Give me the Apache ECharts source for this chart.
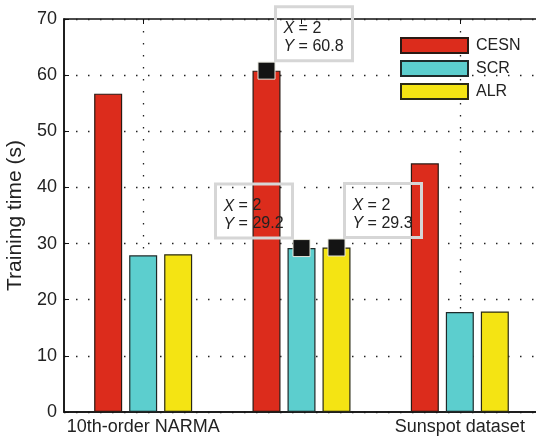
<!DOCTYPE html>
<html>
<head>
<meta charset="utf-8">
<script src="https://cdn.jsdelivr.net/npm/echarts@6/dist/echarts.min.js"></script>
<style>
html,body{margin:0;padding:0;background:#fff;}
#chart{width:536px;height:437px;}
</style>
</head>
<body>
<div id="chart"></div>
<script>
const categories = ['10th-order NARMA', 'Henon map', 'Sunspot dataset'];
const seriesNames = ['CESN', 'SCR', 'ALR'];
const cesn = [56.7, 60.8, 44.3];
const scr = [27.9, 29.2, 17.8];
const alr = [28.1, 29.3, 17.9];
const yTicks = [0, 10, 20, 30, 40, 50, 60, 70];
const yLabel = 'Training time (s)';
// data tips are shown on this category (index)
const tipCategory = 1;

const FONT = 'Liberation Sans, Arial, sans-serif';
const colors = ['#DC2C1C', '#5CCECE', '#F4E413'];

function tip(values, pos) {
  return {
    symbol: 'rect',
    symbolSize: 17,
    itemStyle: { color: '#141414', borderColor: '#e6e6dc', borderWidth: 1 },
    label: {
      show: true,
      position: pos,
      formatter: function (p) {
        return '{i|X} = ' + (tipCategory + 1) + '\n{i|Y} = ' + p.value;
      },
      fontFamily: FONT,
      fontSize: 16,
      color: '#222',
      lineHeight: 18,
      width: 61,
      padding: [13, 8, 5, 8],
      borderColor: '#d6d6d6',
      borderWidth: 1.5,
      backgroundColor: 'transparent',
      rich: { i: { fontStyle: 'italic', fontFamily: FONT, fontSize: 16, lineHeight: 18, color: '#222' } }
    },
    data: [{ coord: [categories[tipCategory], values[tipCategory]], value: values[tipCategory] }]
  };
}

const chart = echarts.init(document.getElementById('chart'));
const dotted = { color: '#222', width: 1.3, type: [1.5, 10.5] };
chart.setOption({
  animation: false,
  textStyle: { fontFamily: FONT },
  grid: { left: 64, top: 19, width: 475, height: 393, outerBoundsMode: 'none', containLabel: false,
    show: true, borderColor: '#111', borderWidth: 1.5, backgroundColor: 'transparent' },
  legend: {
    left: 400, top: 37, padding: 0, orient: 'vertical', itemWidth: 67, itemHeight: 15, itemGap: 6,
    icon: 'rect',
    textStyle: { fontFamily: FONT, fontSize: 16, color: '#222', padding: [0, 0, 0, 3] },
    data: seriesNames
  },
  xAxis: [{
    type: 'category', data: categories, position: 'bottom',
    axisLine: { show: true, lineStyle: { color: '#111', width: 1.5 } },
    axisTick: { show: false },
    axisLabel: { fontFamily: FONT, fontSize: 18, color: '#222', margin: 6 },
    splitLine: { show: true, alignWithLabel: true, lineStyle: dotted }
  }, {
    type: 'category', data: categories, position: 'top',
    axisLine: { show: false },
    axisTick: { show: true, inside: true, alignWithLabel: true, length: 5, lineStyle: { color: '#111' } },
    axisLabel: { show: false },
    splitLine: { show: false }
  }],
  yAxis: {
    type: 'value', min: yTicks[0], max: yTicks[yTicks.length - 1], interval: 10,
    name: yLabel, nameLocation: 'middle', nameGap: 28, nameRotate: 90,
    nameTextStyle: { fontFamily: FONT, fontSize: 21, color: '#222' },
    axisLine: { show: true, lineStyle: { color: '#111', width: 1.5 } },
    axisTick: { show: true, inside: true, length: 5, lineStyle: { color: '#111' } },
    axisLabel: { fontFamily: FONT, fontSize: 18, color: '#222', margin: 7 },
    splitLine: { show: true, lineStyle: dotted }
  },
  series: [
    { name: seriesNames[0], type: 'bar', data: cesn, barWidth: 28, barGap: '25%',
      itemStyle: { color: colors[0], borderColor: '#2a1a14', borderWidth: 1.2 },
      markPoint: tip(cesn, [18, -55]) },
    { name: seriesNames[1], type: 'bar', data: scr, barWidth: 28, barGap: '25%',
      itemStyle: { color: colors[1], borderColor: '#1e2a2a', borderWidth: 1.2 },
      markPoint: tip(scr, [-77, -55]) },
    { name: seriesNames[2], type: 'bar', data: alr, barWidth: 28, barGap: '25%',
      itemStyle: { color: colors[2], borderColor: '#2a2a14', borderWidth: 1.2 },
      markPoint: tip(alr, [17, -55]) }
  ]
});
</script>
</body>
</html>
